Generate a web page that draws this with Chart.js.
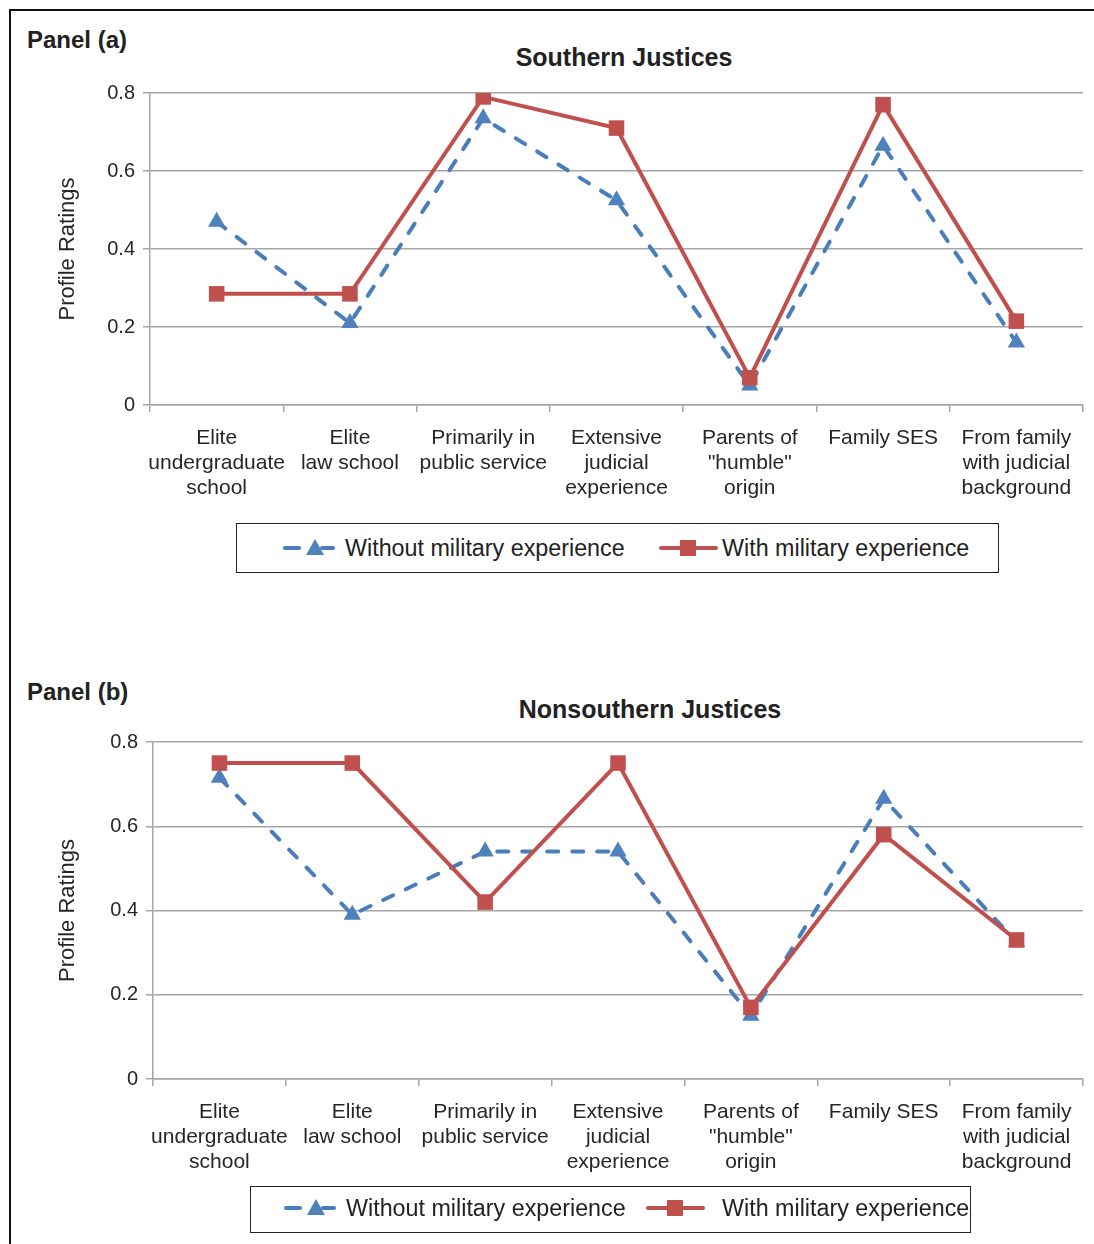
<!DOCTYPE html>
<html>
<head>
<meta charset="utf-8">
<script src="https://cdn.jsdelivr.net/npm/chart.js@4.4.1/dist/chart.umd.min.js"></script>
<style>
  body { margin:0; width:1094px; height:1244px; overflow:hidden; background:#fff;
         font-family:"Liberation Sans", Arial, sans-serif; color:#222; position:relative; }
  .frame { position:absolute; left:9px; top:9px; width:1200px; height:1300px;
           border-top:2px solid #111; border-left:2px solid #111; }
  .txt { position:absolute; white-space:nowrap; line-height:30px; }
  .panel { left:27px; font-weight:bold; font-size:24px; }
  .title { font-weight:bold; font-size:25px; transform:translateX(-50%); }
  .legend { position:absolute; border:1.5px solid #222; box-sizing:border-box; }
  .lab { font-size:23.3px; }
  canvas { position:absolute; left:0; }
  svg { position:absolute; }
</style>
</head>
<body>
<div class="frame"></div>

<div class="txt panel" style="top:25px">Panel (a)</div>
<div class="txt title" style="left:624px; top:42px">Southern Justices</div>
<canvas id="chartA" width="1094" height="520" style="top:0"></canvas>

<div class="legend" style="left:236px; top:523px; width:763px; height:50px"></div>
<svg style="left:282px; top:538px" width="54" height="20">
  <line x1="3" y1="10" x2="17" y2="10" stroke="#4a7ebb" stroke-width="4" stroke-linecap="round"/>
  <line x1="40" y1="10" x2="51" y2="10" stroke="#4a7ebb" stroke-width="4" stroke-linecap="round"/>
  <polygon points="33,1 42,17 24,17" fill="#4f81bd"/>
</svg>
<div class="txt lab" style="left:345px; top:533px">Without military experience</div>
<svg style="left:659px; top:538px" width="60" height="20">
  <line x1="2" y1="10" x2="57" y2="10" stroke="#c0504d" stroke-width="4" stroke-linecap="round"/>
  <rect x="21" y="2" width="16" height="16" fill="#c0504d"/>
</svg>
<div class="txt lab" style="left:722px; top:533px">With military experience</div>

<div class="txt panel" style="top:677px">Panel (b)</div>
<div class="txt title" style="left:650px; top:694px">Nonsouthern Justices</div>
<canvas id="chartB" width="1094" height="560" style="top:650px"></canvas>

<div class="legend" style="left:250px; top:1186px; width:721px; height:47px"></div>
<svg style="left:283px; top:1198px" width="54" height="20">
  <line x1="3" y1="10" x2="17" y2="10" stroke="#4a7ebb" stroke-width="4" stroke-linecap="round"/>
  <line x1="40" y1="10" x2="51" y2="10" stroke="#4a7ebb" stroke-width="4" stroke-linecap="round"/>
  <polygon points="33,1 42,17 24,17" fill="#4f81bd"/>
</svg>
<div class="txt lab" style="left:346px; top:1193px">Without military experience</div>
<svg style="left:646px; top:1198px" width="60" height="20">
  <line x1="2" y1="10" x2="57" y2="10" stroke="#c0504d" stroke-width="4" stroke-linecap="round"/>
  <rect x="21" y="2" width="16" height="16" fill="#c0504d"/>
</svg>
<div class="txt lab" style="left:722px; top:1193px">With military experience</div>

<script>
// categories along the x axis (multi-line labels)
const categories = [
  ['Elite', 'undergraduate', 'school'],
  ['Elite', 'law school'],
  ['Primarily in', 'public service'],
  ['Extensive', 'judicial', 'experience'],
  ['Parents of', '"humble"', 'origin'],
  ['Family SES'],
  ['From family', 'with judicial', 'background']
];

// Panel (a) - Southern Justices
const southWithout = [0.47, 0.21, 0.735, 0.525, 0.05, 0.665, 0.16];
const southWith    = [0.285, 0.285, 0.79, 0.71, 0.07, 0.77, 0.215];

// Panel (b) - Nonsouthern Justices
const nonsouthWithout = [0.715, 0.39, 0.54, 0.54, 0.15, 0.665, 0.325];
const nonsouthWith    = [0.75, 0.75, 0.42, 0.75, 0.17, 0.58, 0.33];

const yTicks = [0, 0.2, 0.4, 0.6, 0.8];
const yTitle = 'Profile Ratings';

const BLUE_LINE = '#4a7ebb', BLUE = '#4f81bd', RED = '#c0504d';
const GRID = '#a6a6a6', INK = '#262626';
const FONT = '"Liberation Sans", Arial, sans-serif';

function makePanel(id, withoutVals, withVals, area) {
  const ctx = document.getElementById(id).getContext('2d');
  const H = ctx.canvas.height;
  return new Chart(ctx, {
    type: 'line',
    data: {
      labels: categories,
      datasets: [
        {
          label: 'Without military experience',
          data: withoutVals,
          borderColor: BLUE_LINE, borderWidth: 4,
          borderDash: [11, 14], borderCapStyle: 'round',
          pointStyle: 'triangle', pointRadius: 10,
          pointBackgroundColor: BLUE, pointBorderWidth: 0,
          tension: 0, order: 2
        },
        {
          label: 'With military experience',
          data: withVals,
          borderColor: RED, borderWidth: 4,
          pointStyle: 'rect', pointRadius: 11,
          pointBackgroundColor: RED, pointBorderWidth: 0,
          tension: 0, order: 1
        }
      ]
    },
    options: {
      responsive: false,
      animation: false,
      layout: { padding: { left: 0, top: area.top, right: 1094 - area.right, bottom: 0 } },
      plugins: { legend: { display: false }, tooltip: { enabled: false } },
      scales: {
        x: {
          offset: true,
          afterFit: s => { s.height = H - area.bottom; },
          grid: { offset: true, drawOnChartArea: false, tickLength: 7, color: GRID, lineWidth: 1.5 },
          border: { color: GRID, width: 1.5 },
          ticks: { color: INK, padding: 13, maxRotation: 0, autoSkip: false,
                   font: { family: FONT, size: 21, lineHeight: 1.21 } }
        },
        y: {
          min: 0, max: 0.8,
          afterFit: s => { s.width = area.left; },
          afterBuildTicks: s => { s.ticks = yTicks.map(v => ({ value: v })); },
          grid: { tickLength: 7, color: GRID, lineWidth: 1.5 },
          border: { color: GRID, width: 1.5 },
          ticks: { color: INK, padding: 8, font: { family: FONT, size: 20 },
                   callback: v => v === 0 ? '0' : v.toFixed(1) },
          title: { display: true, text: yTitle, color: INK,
                   padding: { top: 55, bottom: 0 },
                   font: { family: FONT, size: 22, lineHeight: 1.2 } }
        }
      }
    }
  });
}

makePanel('chartA', southWithout, southWith, { left: 150, top: 93, right: 1085, bottom: 405 });
makePanel('chartB', nonsouthWithout, nonsouthWith, { left: 153, top: 92, right: 1085, bottom: 429 });
</script>
</body>
</html>
